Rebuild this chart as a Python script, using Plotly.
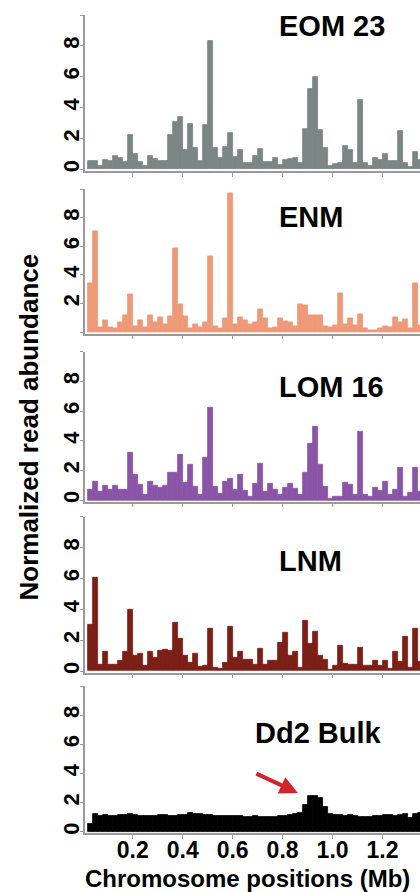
import plotly.graph_objects as go

# ---------------- data ----------------
bin_start_mb = 0.02
bin_width_mb = 0.02
n_bins = 67
bin_centers = [round(bin_start_mb + bin_width_mb * (i + 0.5), 3) for i in range(n_bins)]

eom23 = [0.54, 0.58, 0.20, 0.62, 0.56, 0.86, 0.77, 0.50, 2.20, 1.03,
         0.50, 0.20, 0.84, 0.67, 0.58, 0.52, 2.24, 3.07, 3.38, 1.29,
         2.97, 1.40, 0.56, 2.88, 8.30, 1.40, 0.75, 1.48, 2.37, 0.82,
         1.23, 0.45, 0.45, 0.86, 1.33, 0.49, 0.49, 0.71, 0.28, 0.60,
         0.67, 0.75, 0.43, 2.65, 5.23, 5.96, 2.54, 1.38, 0.22, 0.37,
         0.39, 1.55, 1.23, 0.45, 4.47, 0.39, 0.20, 0.71, 0.62, 1.00,
         0.58, 0.58, 2.52, 0.43, 0.15, 1.10, 0.60]

enm = [3.44, 7.08, 0.30, 0.81, 0.33, 0.23, 0.70, 1.18, 2.67, 0.42,
       0.79, 0.30, 1.18, 0.67, 1.02, 0.53, 1.11, 5.90, 1.97, 1.11,
       0.28, 0.53, 0.35, 0.70, 5.32, 0.42, 0.28, 0.98, 9.71, 0.53,
       1.05, 0.81, 0.51, 0.65, 1.63, 0.93, 0.28, 0.30, 0.93, 0.77,
       0.65, 0.42, 1.97, 1.86, 1.16, 1.16, 1.18, 0.42, 0.33, 0.49,
       2.69, 0.56, 0.93, 0.49, 1.28, 0.23, 0.14, 0.09, 0.23, 0.42,
       0.35, 1.05, 0.70, 0.88, 0.28, 3.39, 0.50]

lom16 = [0.74, 1.28, 0.59, 1.01, 0.70, 1.01, 0.74, 0.72, 3.20, 1.69,
         1.06, 0.38, 1.24, 0.99, 0.86, 1.01, 1.87, 1.83, 3.09, 1.19,
         2.36, 0.92, 0.34, 2.88, 6.24, 0.90, 0.43, 1.26, 1.44, 0.74,
         1.69, 0.63, 0.27, 1.13, 2.48, 0.56, 1.08, 0.68, 0.34, 0.86,
         1.08, 0.79, 0.34, 1.85, 3.83, 4.95, 2.41, 0.90, 0.11, 0.23,
         0.23, 1.17, 1.06, 0.34, 4.62, 0.40, 0.27, 0.83, 0.63, 1.26,
         0.34, 0.74, 2.21, 0.23, 0.52, 2.18, 0.60]

lnm = [2.98, 6.05, 0.40, 1.28, 0.42, 0.42, 0.67, 1.26, 3.95, 1.02,
       1.15, 0.34, 1.23, 0.84, 1.34, 1.41, 1.30, 3.16, 2.11, 0.97,
       0.54, 1.15, 0.28, 0.36, 2.74, 0.23, 0.18, 0.56, 2.90, 0.90,
       1.23, 0.71, 0.73, 0.40, 1.45, 0.40, 0.69, 0.69, 1.83, 2.52,
       1.02, 1.28, 0.25, 3.29, 1.80, 2.54, 1.02, 0.73, 0.12, 0.34,
       1.65, 0.47, 0.40, 0.45, 1.54, 0.34, 0.34, 0.67, 0.34, 0.67,
       0.19, 1.28, 0.62, 2.20, 0.23, 2.76, 0.60]

dd2_bulk = [0.57, 1.20, 1.08, 1.13, 1.08, 1.10, 1.13, 1.15, 1.20, 1.17,
            1.10, 1.06, 1.08, 1.10, 1.13, 1.13, 1.08, 1.10, 1.17, 1.13,
            1.26, 1.20, 1.20, 1.17, 1.13, 1.10, 1.08, 1.06, 1.06, 1.08,
            1.06, 1.03, 1.03, 1.06, 1.03, 1.01, 1.01, 1.03, 1.06, 1.08,
            1.15, 1.20, 1.26, 1.84, 2.48, 2.48, 2.30, 1.72, 1.20, 1.15,
            1.13, 1.10, 1.13, 1.08, 1.03, 1.01, 1.03, 1.08, 1.10, 1.15,
            1.13, 1.10, 1.17, 1.20, 0.92, 1.22, 1.26]

panel_names = ["EOM 23", "ENM", "LOM 16", "LNM", "Dd2 Bulk"]
panel_series = [eom23, enm, lom16, lnm, dd2_bulk]
panel_colors = ["#7b8684", "#ee9a79", "#8a55a7", "#7b1f17", "#000000"]

x_tick_vals = [0.2, 0.4, 0.6, 0.8, 1.0, 1.2]
x_tick_text = ["0.2", "0.4", "0.6", "0.8", "1.0", "1.2"]
y_tick_vals = [0, 2, 4, 6, 8, 10]
y_tick_text = [
    ["0", "2", "4", "6", "8", ""],
    ["", "2", "4", "6", "8", ""],
    ["0", "2", "4", "6", "8", ""],
    ["0", "2", "4", "6", "8", ""],
    ["0", "2", "4", "6", "8", ""],
]

x_title = "Chromosome positions (Mb)"
y_title = "Normalized read abundance"
arrow_target = (0.861, 2.67)  # Mb, abundance: the amplified region in Dd2 Bulk

# ---------------- layout geometry ----------------
W, H = 420, 892
L = 85
panel_px = [(15, 171), (189.3, 333.5), (351.7, 501.7), (516.7, 672.7), (686, 833.3)]
title_px = [(277, 26), (277, 217), (277, 387), (277, 561), (253, 733)]

FONT = "Liberation Sans, Arial, Helvetica, sans-serif"
AXIS_GRAY = "#9a9a9a"

fig = go.Figure()
layout = dict(
    width=W, height=H,
    margin=dict(l=L, r=0, t=0, b=0),
    paper_bgcolor="white", plot_bgcolor="white",
    showlegend=False, bargap=0,
    font=dict(family=FONT, color="black"),
    annotations=[],
)

def px_x(p):
    return (p - L) / (W - L)

def px_y(p):
    return (H - p) / H

for i, (name, vals, col) in enumerate(zip(panel_names, panel_series, panel_colors)):
    k = i + 1
    xa = "x" if k == 1 else f"x{k}"
    ya = "y" if k == 1 else f"y{k}"
    fig.add_trace(go.Bar(
        x=bin_centers, y=vals, width=bin_width_mb,
        marker=dict(color=col, line=dict(color=col, width=0.8)),
        xaxis=xa, yaxis=ya, hoverinfo="skip",
    ))
    top, bot = panel_px[i]
    layout["xaxis" if k == 1 else f"xaxis{k}"] = dict(
        domain=[0, 1], anchor=ya, range=[0.009, 1.35],
        showline=True, linecolor=AXIS_GRAY, linewidth=1.5,
        ticks="outside", ticklen=4, tickwidth=1.2, tickcolor=AXIS_GRAY,
        tickvals=x_tick_vals, ticktext=x_tick_text,
        showticklabels=(k == 5), showgrid=False, zeroline=False,
        ticklabelstandoff=-9,
        tickfont=dict(size=23, family=FONT, color="black", weight="bold"),
    )
    layout["yaxis" if k == 1 else f"yaxis{k}"] = dict(
        domain=[px_y(bot), px_y(top)], anchor=xa, range=[-0.1, 10],
        showline=True, linecolor=AXIS_GRAY, linewidth=1.5,
        ticks="outside", ticklen=3, tickwidth=1.2, tickcolor=AXIS_GRAY,
        tickvals=y_tick_vals, ticktext=y_tick_text[i], tickangle=-90,
        showgrid=False, zeroline=False, ticklabelstandoff=-8,
        tickfont=dict(size=22, family=FONT, color="black", weight="bold"),
    )
    tx, ty = title_px[i]
    layout["annotations"].append(dict(
        text=name, xref="paper", yref="paper", x=px_x(tx), y=px_y(ty),
        xanchor="left", yanchor="middle", showarrow=False,
        font=dict(size=29, family=FONT, color="black", weight="bold"),
    ))

layout["annotations"].append(dict(
    text=x_title, xref="paper", yref="paper", x=px_x(247), y=px_y(878),
    xanchor="center", yanchor="middle", showarrow=False,
    font=dict(size=24, family=FONT, color="black", weight="bold"),
))
layout["annotations"].append(dict(
    text=y_title, xref="paper", yref="paper", x=px_x(28), y=px_y(427.5),
    xanchor="center", yanchor="middle", showarrow=False, textangle=-90,
    font=dict(size=26, family=FONT, color="black", weight="bold"),
))
layout["annotations"].append(dict(
    text="", xref="x5", yref="y5", x=arrow_target[0], y=arrow_target[1],
    ax=-43, ay=-20, showarrow=True, arrowhead=2, arrowsize=0.9,
    arrowwidth=4, arrowcolor="#d3242c",
))

fig.update_layout(**layout)
fig.write_html(
    "out.html",
    config={"displayModeBar": False},
    post_script="document.body.style.margin='0';document.body.style.padding='0';document.body.style.overflow='hidden';",
)
